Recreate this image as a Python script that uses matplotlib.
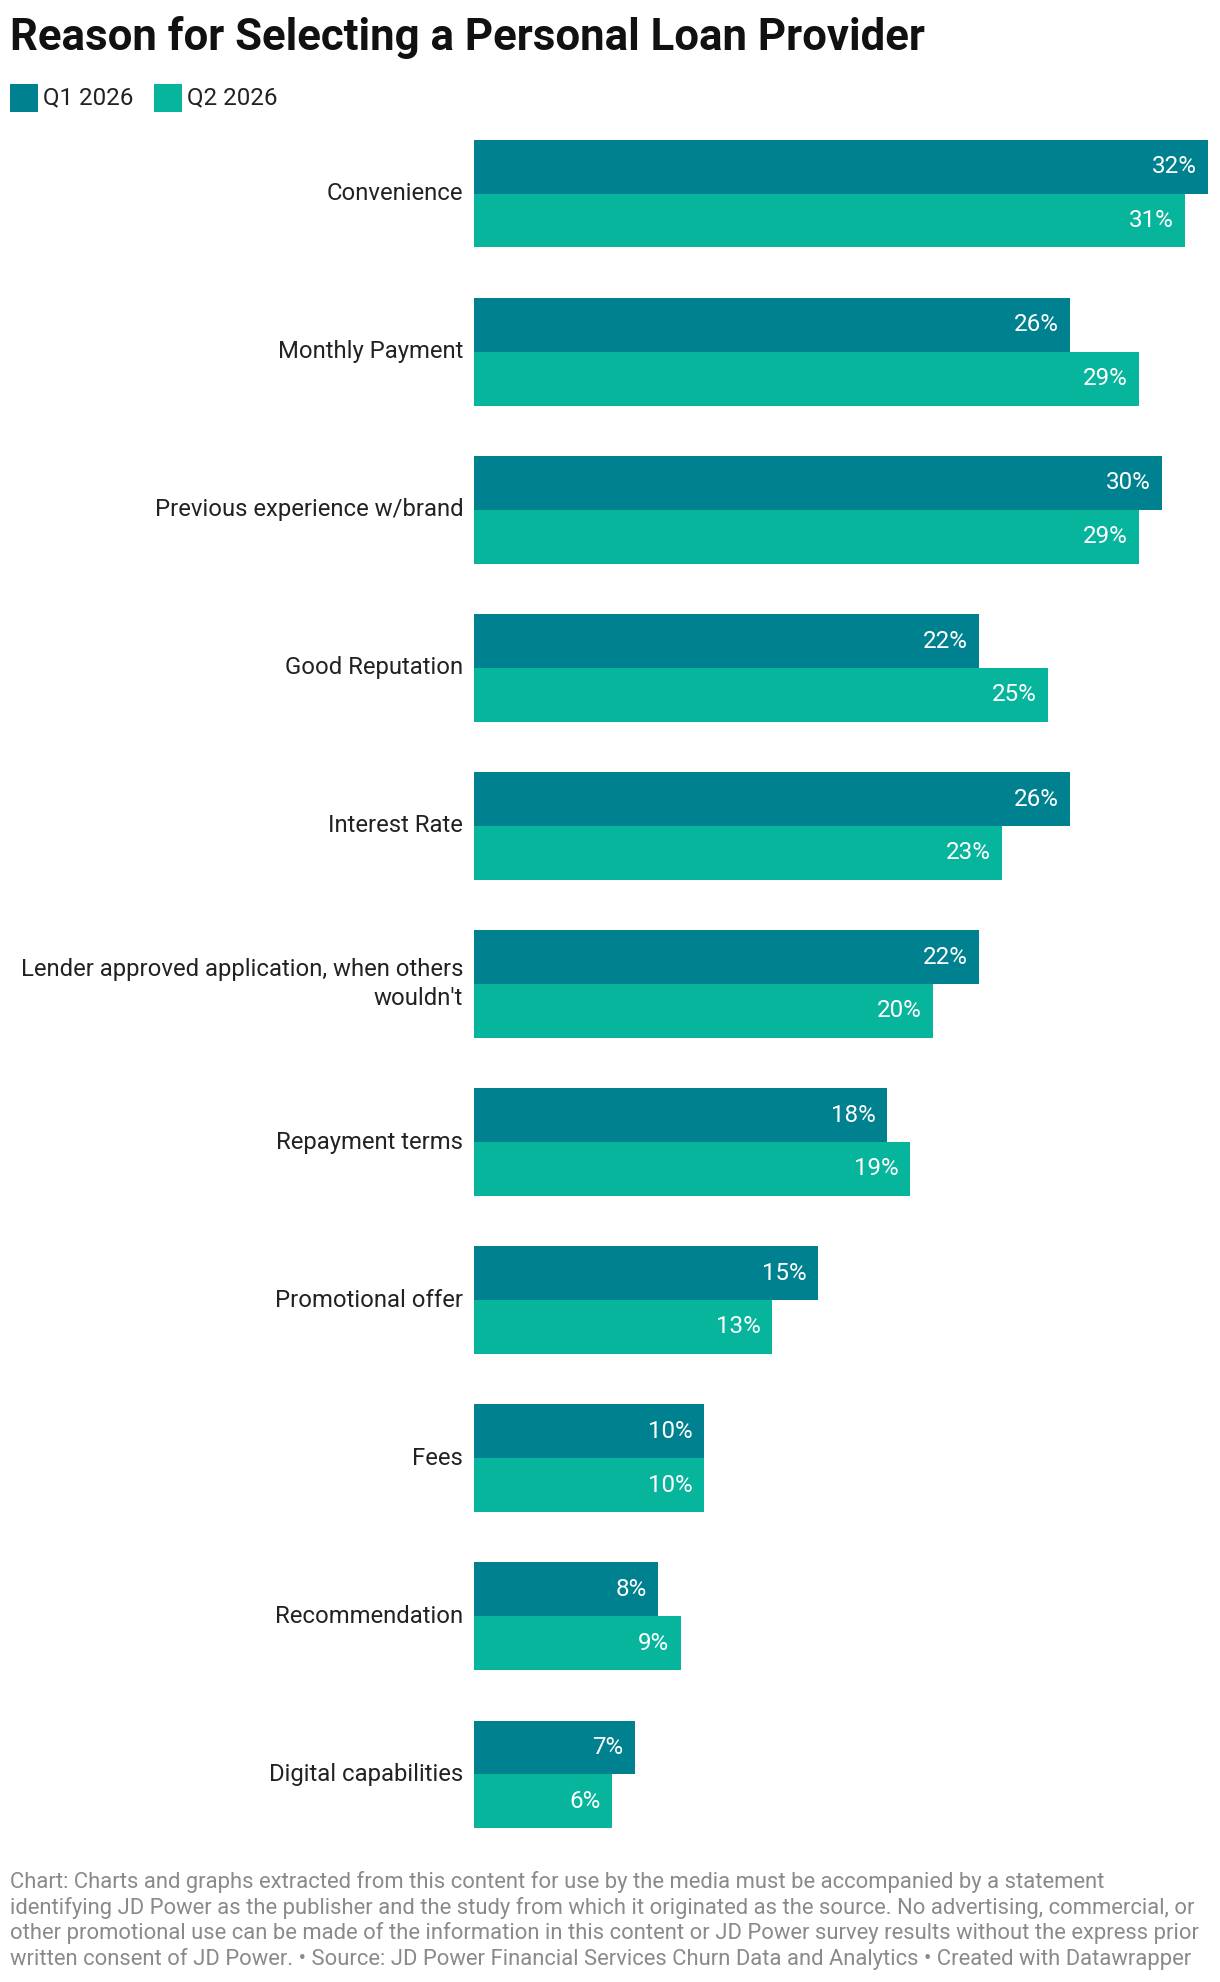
import matplotlib.pyplot as plt
from matplotlib.patches import Rectangle

plt.rcParams["font.family"] = ["Roboto", "DejaVu Sans"]

categories = [
    "Convenience",
    "Monthly Payment",
    "Previous experience w/brand",
    "Good Reputation",
    "Interest Rate",
    "Lender approved application, when others\nwouldn't",
    "Repayment terms",
    "Promotional offer",
    "Fees",
    "Recommendation",
    "Digital capabilities",
]
q1_2026 = [32, 26, 30, 22, 26, 22, 18, 15, 10, 8, 7]
q2_2026 = [31, 29, 29, 25, 23, 20, 19, 13, 10, 9, 6]
series_names = ["Q1 2026", "Q2 2026"]

footer_lines = [
    "Chart: Charts and graphs extracted from this content for use by the media must be accompanied by a statement",
    "identifying JD Power as the publisher and the study from which it originated as the source. No advertising, commercial, or",
    "other promotional use can be made of the information in this content or JD Power survey results without the express prior",
    "written consent of JD Power. \u2022 Source: JD Power Financial Services Churn Data and Analytics \u2022 Created with Datawrapper",
]

C1 = "#00818f"
C2 = "#07b59c"

W, H = 1220, 1982
fig = plt.figure(figsize=(W / 100, H / 100), dpi=100)

# axes placed in pixel units of the reference
ax_left, ax_right, ax_top, ax_bottom = 474.3, 1208, 140, 1828
ax = fig.add_axes([ax_left / W, 1 - ax_bottom / H,
                   (ax_right - ax_left) / W, (ax_bottom - ax_top) / H])

bh = 0.34
n = len(categories)
pos = list(range(n))
b1 = ax.barh([p + bh / 2 for p in pos], q1_2026, height=bh, color=C1, linewidth=0)
b2 = ax.barh([p + bh * 1.5 for p in pos], q2_2026, height=bh, color=C2, linewidth=0)

for bars, vals in ((b1, q1_2026), (b2, q2_2026)):
    for rect, v in zip(bars, vals):
        ax.annotate(f"{v}%", (rect.get_width(), rect.get_y() + rect.get_height() / 2),
                    xytext=(-8.1, 0), textcoords="offset points",
                    ha="right", va="center", color="white", fontsize=17.4)

for p, cat in zip(pos, categories):
    ax.annotate(cat, (0, p + bh), xytext=(-7.9, 0), textcoords="offset points",
                ha="right", va="center", color="#222222", fontsize=17.2,
                multialignment="right", linespacing=1.3, annotation_clip=False)

ax.set_xlim(0, 32)
ax.set_ylim(n - 1 + 2 * bh, 0)
ax.axis("off")

fig.text(10 / W, 1 - 50 / H, "Reason for Selecting a Personal Loan Provider",
         fontsize=31.5, fontweight="bold", color="#111111", va="baseline", ha="left")

# legend
leg_x = [10, 154]
for lx, name, col in zip(leg_x, series_names, [C1, C2]):
    fig.patches.append(Rectangle((lx / W, 1 - 112 / H), 28 / W, 28 / H,
                                 transform=fig.transFigure, color=col, linewidth=0))
    fig.text((lx + 33) / W, 1 - 97.5 / H, name, fontsize=17.4, color="#222222",
             va="center", ha="left")

for i, line in enumerate(footer_lines):
    fig.text(10 / W, 1 - (1888 + i * 25.7) / H, line, fontsize=15.8,
             color="#8a8a8a", va="baseline", ha="left")

fig.savefig("out.png", dpi=100)
